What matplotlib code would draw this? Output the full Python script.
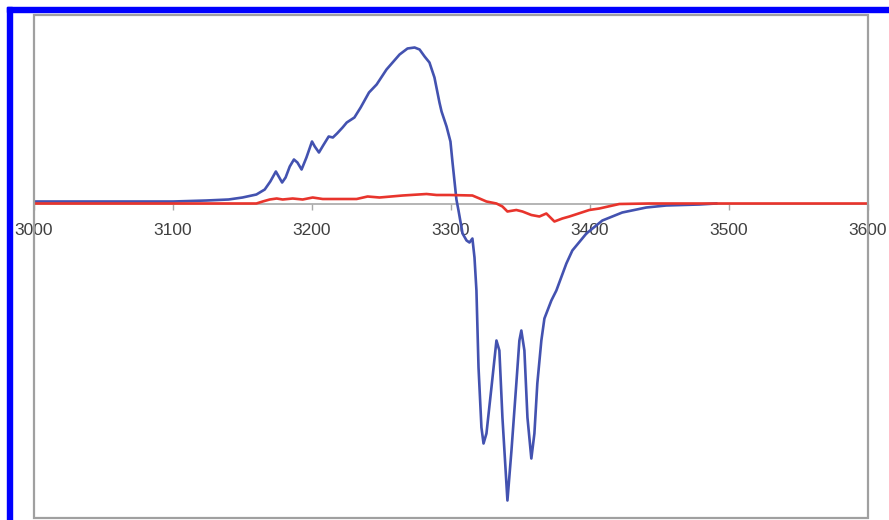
import matplotlib
matplotlib.use("Agg")
import matplotlib.pyplot as plt
from matplotlib.patches import Rectangle

# Blue trace: field position and signal (arbitrary units)
blue_field = [3000, 3050, 3100, 3124, 3140, 3150, 3160, 3166, 3170, 3174,
              3178.5, 3181, 3184, 3187, 3189.5, 3192.5, 3196, 3200, 3202, 3205,
              3208, 3212, 3215, 3218, 3222, 3225, 3230.5, 3235, 3241, 3246.5,
              3253.6, 3263, 3268.7, 3273.8, 3277.4, 3281, 3284.5, 3288.1, 3291.7, 3293.2,
              3296.8, 3299.6, 3301.1, 3303.9, 3305.4, 3308.3, 3311.2, 3313.3, 3315.4, 3316.9,
              3318.3, 3319.8, 3321.9, 3323.4, 3325.5, 3329.1, 3332.7, 3334.8, 3337, 3340.6,
              3343.5, 3347, 3349.2, 3350.6, 3352.8, 3355, 3357.8, 3360, 3362.1, 3365,
              3367.2, 3372.2, 3375.8, 3383, 3387.3, 3397.4, 3408.9, 3423.2, 3440.5, 3454.8,
              3478.6, 3490.8]
blue_signal = [0.02, 0.02, 0.02, 0.03, 0.04, 0.06, 0.09, 0.14, 0.22, 0.32,
               0.21, 0.26, 0.37, 0.44, 0.41, 0.34, 0.46, 0.62, 0.57, 0.51,
               0.58, 0.67, 0.66, 0.70, 0.76, 0.81, 0.86, 0.96, 1.11, 1.19,
               1.34, 1.49, 1.55, 1.56, 1.54, 1.47, 1.41, 1.26, 1.01, 0.92,
               0.77, 0.62, 0.41, 0.04, -0.07, -0.30, -0.37, -0.39, -0.35, -0.54,
               -0.87, -1.64, -2.24, -2.40, -2.30, -1.84, -1.37, -1.47, -2.14, -2.97,
               -2.47, -1.80, -1.37, -1.27, -1.47, -2.14, -2.55, -2.30, -1.80, -1.37,
               -1.15, -0.97, -0.87, -0.60, -0.47, -0.30, -0.17, -0.09, -0.04, -0.02,
               -0.01, 0.0]

# Red trace
red_field = [3000, 3160, 3164.5, 3169.6, 3174.6, 3178.9, 3186.1, 3193.3, 3200.5, 3207.7,
             3227.1, 3232.1, 3240, 3248.6, 3265.2, 3282.4, 3289.6, 3298.9, 3315.4, 3320.5,
             3325.5, 3332.7, 3337, 3340.6, 3347, 3351.4, 3357.8, 3363.6, 3368.6, 3374.4,
             3380.1, 3385.2, 3399.5, 3406.7, 3421.1, 3442.6, 3600]
red_signal = [0.0, 0.0, 0.02, 0.04, 0.05, 0.04, 0.05, 0.04, 0.06, 0.045,
              0.045, 0.045, 0.07, 0.06, 0.08, 0.095, 0.085, 0.085, 0.08, 0.05,
              0.02, 0.0, -0.03, -0.08, -0.065, -0.08, -0.115, -0.13, -0.10, -0.18,
              -0.15, -0.13, -0.065, -0.05, -0.005, 0.0, 0.0]

tick_values = [3000, 3100, 3200, 3300, 3400, 3500, 3600]
tick_labels = ["3000", "3100", "3200", "3300", "3400", "3500", "3600"]

plt.rcParams["font.family"] = ["Liberation Sans", "DejaVu Sans"]

fig = plt.figure(figsize=(8.89, 5.20), dpi=100)
ax = fig.add_axes([34 / 889, 2 / 520, 834 / 889, 503 / 520])

ax.plot(blue_field, blue_signal, color="#4352b0", lw=1.9, zorder=3,
        solid_joinstyle="round")
ax.plot(red_field, red_signal, color="#e8342c", lw=1.9, zorder=4,
        solid_joinstyle="round")

ax.set_xlim(3000, 3600)
ax.set_ylim(-3.145, 1.885)

# zero line carries the ticks, box drawn separately
for side in ["top", "left", "right"]:
    ax.spines[side].set_visible(False)
ax.spines["bottom"].set_position(("data", 0))
ax.spines["bottom"].set_color("#a8a8a8")
ax.spines["bottom"].set_linewidth(1.2)
ax.add_patch(Rectangle((0, 0), 1, 1, transform=ax.transAxes, fill=False,
                       edgecolor="#a0a0a0", lw=1.6, clip_on=False, zorder=5))

ax.set_xticks(tick_values)
ax.set_xticklabels(tick_labels)
ax.set_yticks([])
ax.tick_params(axis="x", direction="out", length=4.3, width=1, color="#a8a8a8",
               pad=10, labelsize=12.5, labelcolor="#404040")

# blue frame of the image
fig.add_artist(Rectangle((7 / 889, 0), 5 / 889, 513 / 520,
                         transform=fig.transFigure, color="#0000ff"))
fig.add_artist(Rectangle((7 / 889, 508 / 520), 882 / 889, 5 / 520,
                         transform=fig.transFigure, color="#0000ff"))

fig.savefig("out.png", dpi=100)
plt.close(fig)
